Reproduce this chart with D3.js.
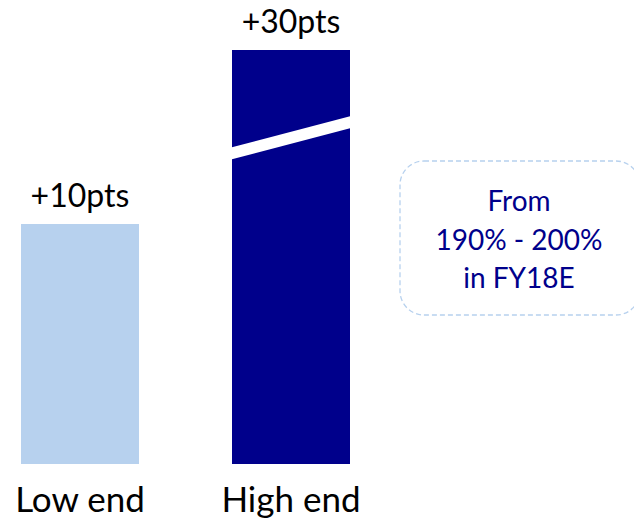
<!DOCTYPE html>
<html><head><meta charset="utf-8">
<script src="https://cdn.jsdelivr.net/npm/d3@7"></script>
<style>body{margin:0;background:#fff}svg{display:block}text{font-family:Lato,"Noto Sans",sans-serif}</style>
</head><body>
<svg id="c" width="634" height="518"></svg>
<script>
const categories = ["Low end", "High end"];
const values = [10, 30];
const valueLabels = ["+10pts", "+30pts"];
const barColors = ["#b7d1ee", "#00008b"];
const noteLines = ["From", "190% - 200%", "in FY18E"];

const svg = d3.select("#c");
const x = d3.scaleBand().domain(categories).range([21, 350]).paddingInner(0.4408).paddingOuter(0);
// broken (piecewise) value scale
const y = d3.scaleLinear().domain([0, 10, 30]).range([464, 224, 50]);

svg.selectAll("rect.bar").data(categories).join("rect")
  .attr("x", d => x(d)).attr("width", x.bandwidth())
  .attr("y", (d,i) => y(values[i])).attr("height", (d,i) => y(0) - y(values[i]))
  .attr("fill", (d,i) => barColors[i]);

// axis break on the high bar
const hb = categories[1];
const bx0 = x(hb), bx1 = x(hb) + x.bandwidth();
svg.append("polygon")
  .attr("points", [[bx0-1,147.5],[bx1+1,116],[bx1+1,128],[bx0-1,159.5]].map(p=>p.join(",")).join(" "))
  .attr("fill", "#fff");

svg.selectAll("text.val").data(categories).join("text")
  .attr("x", d => x(d) + x.bandwidth()/2)
  .attr("y", (d,i) => y(values[i]) - 17)
  .attr("text-anchor", "middle").attr("font-size", 32).attr("fill", "#000")
  .text((d,i) => valueLabels[i]);

svg.selectAll("text.cat").data(categories).join("text")
  .attr("x", d => x(d) + x.bandwidth()/2)
  .attr("y", 512)
  .attr("text-anchor", "middle").attr("font-size", 35).attr("fill", "#000")
  .text(d => d);

svg.append("rect").attr("x", 400).attr("y", 161).attr("width", 240).attr("height", 154)
  .attr("rx", 24).attr("fill", "none").attr("stroke", "#b7d1ee").attr("stroke-width", 1.3)
  .attr("stroke-dasharray", "5,3");

svg.selectAll("text.note").data(noteLines).join("text")
  .attr("x", 519).attr("y", (d,i) => 211 + i*38.5)
  .attr("text-anchor", "middle").attr("font-size", 28).attr("fill", "#00008b")
  .text(d => d);
</script>
</body></html>
